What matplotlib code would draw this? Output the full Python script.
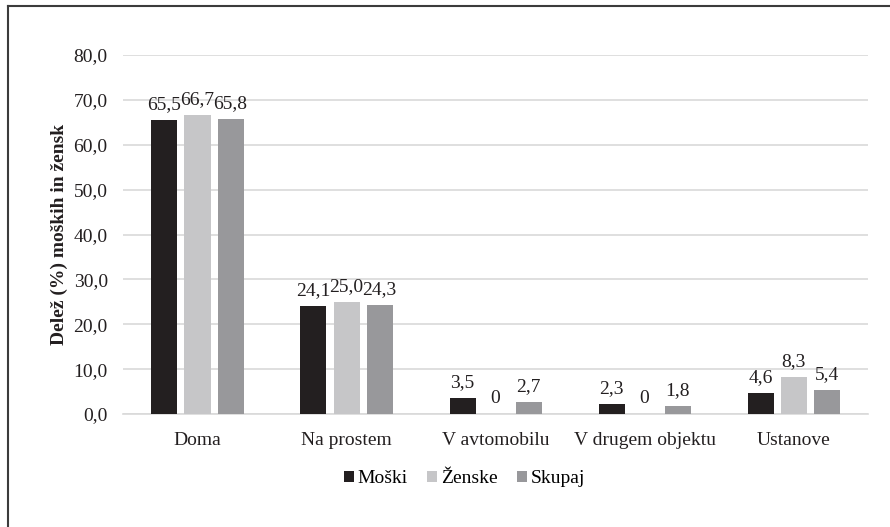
import numpy as np
import matplotlib
matplotlib.use("Agg")
import matplotlib.pyplot as plt
from matplotlib.lines import Line2D

plt.rcParams['font.family'] = ['Liberation Serif', 'DejaVu Serif']

categories = ["Doma", "Na prostem", "V avtomobilu", "V drugem objektu", "Ustanove"]
moski = [65.5, 24.1, 3.5, 2.3, 4.6]
zenske = [66.7, 25.0, 0, 0, 8.3]
skupaj = [65.8, 24.3, 2.7, 1.8, 5.4]
series = [("Moški", moski, "#231f20"),
          ("Ženske", zenske, "#c6c6c8"),
          ("Skupaj", skupaj, "#98989b")]

fig = plt.figure(figsize=(8.9, 5.27), dpi=100)
ax = fig.add_axes([0.1382, 0.2144, 0.8371, 0.6812])

x = np.arange(len(categories))
width = 0.1745
step = 0.2215
for i, (name, vals, col) in enumerate(series):
    pos = x + (i - 1) * step
    ax.bar(pos, vals, width, color=col, label=name, zorder=3)
    for p, v in zip(pos, vals):
        lab = "0" if v == 0 else f"{v:.1f}".replace(".", ",")
        ax.annotate(lab, (p, v), xytext=(0, 5), textcoords="offset points",
                    ha="center", va="bottom", fontsize=14, color="#231f20")

ax.set_xlim(-0.5, len(categories) - 0.5)
ax.set_ylim(0, 80)
ticks = np.arange(0, 81, 10)
ax.set_yticks(ticks)
ax.set_yticklabels([f"{t:.1f}".replace(".", ",") for t in ticks])
ax.set_xticks(x)
ax.set_xticklabels(categories)
ax.tick_params(axis="both", length=0, labelsize=14, colors="#231f20")
ax.tick_params(axis="x", pad=13)
ax.tick_params(axis="y", pad=11)
ax.yaxis.grid(True, color="#d9d9d9", linewidth=1.2, zorder=0)
for s in ["top", "right", "left"]:
    ax.spines[s].set_visible(False)
ax.spines["bottom"].set_color("#d9d9d9")
ax.spines["bottom"].set_linewidth(1.2)
ax.set_ylabel("Delež (%) moških in žensk", fontsize=14, fontweight="bold",
              color="#231f20", labelpad=4)

ax.legend(loc="center", bbox_to_anchor=(0.4585, -0.18), ncol=3, frameon=False,
          fontsize=14, handlelength=0.5, handleheight=0.5, handletextpad=0.2,
          columnspacing=1.0)

# outer frame: only left and top edges are visible in the original
fig.add_artist(Line2D([8 / 890, 8 / 890], [0, 1 - 6 / 527], transform=fig.transFigure,
                      color="#3c3c3c", linewidth=1.5))
fig.add_artist(Line2D([8 / 890, 1], [1 - 6 / 527, 1 - 6 / 527], transform=fig.transFigure,
                      color="#3c3c3c", linewidth=1.5))

fig.savefig("out.png", dpi=100, facecolor="white")
